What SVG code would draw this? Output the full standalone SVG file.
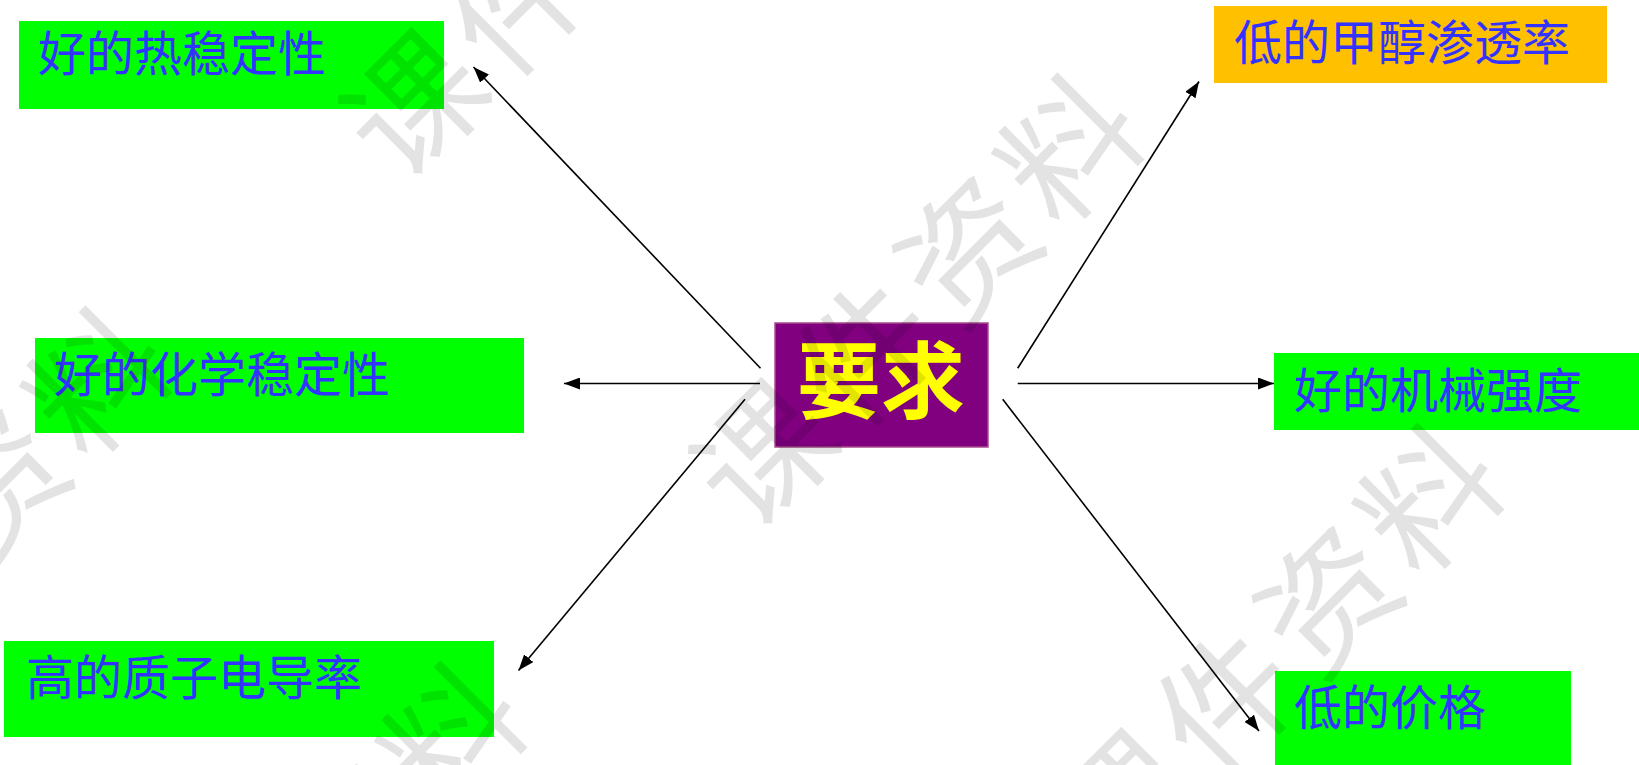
<svg xmlns="http://www.w3.org/2000/svg" width="1639" height="765" viewBox="0 0 1639 765">
<style>
.box{fill:#00FF00;}
.lbl{font-family:"Noto Sans CJK SC","Liberation Sans",sans-serif;font-size:48px;fill:#3333FF;}
.ctr{font-family:"Noto Sans CJK SC","Liberation Serif",serif;font-size:84px;font-weight:bold;fill:#FFFF00;}
.wm{font-family:"Noto Sans CJK SC","Liberation Sans",sans-serif;font-size:134px;letter-spacing:10px;fill:#000;fill-opacity:0.11;}
.con{stroke:#000;stroke-width:1.6;fill:none;}
</style>
<defs>
<marker id="arr" viewBox="0 0 16 12" refX="16" refY="6" markerWidth="16" markerHeight="12" markerUnits="userSpaceOnUse" orient="auto">
<path d="M0,0 L16,6 L0,12 z" fill="#000"/>
</marker>
</defs>
<rect width="1639" height="765" fill="#FFFFFF"/>
<g id="connectors">
<line class="con" x1="760.5" y1="368.3" x2="473.5" y2="67" marker-end="url(#arr)"/>
<line class="con" x1="760" y1="383.5" x2="564" y2="383.5" marker-end="url(#arr)"/>
<line class="con" x1="745" y1="399.3" x2="518.5" y2="670.5" marker-end="url(#arr)"/>
<line class="con" x1="1017.7" y1="368.3" x2="1199" y2="81.5" marker-end="url(#arr)"/>
<line class="con" x1="1017.7" y1="383.5" x2="1274" y2="383.5" marker-end="url(#arr)"/>
<line class="con" x1="1002.7" y1="399.3" x2="1259" y2="731" marker-end="url(#arr)"/>
</g>
<g id="center">
<rect x="775" y="323" width="213" height="124" fill="#800080" stroke="#A64D8C" stroke-width="1.5"/>
<text class="ctr" x="881" y="412" text-anchor="middle">要求</text>
</g>
<g id="n-thermal">
<rect class="box" x="19" y="21" width="425" height="88"/>
<text class="lbl" x="38" y="71">好的热稳定性</text>
</g>
<g id="n-methanol">
<rect x="1214" y="6" width="393" height="77" fill="#FFC000"/>
<text class="lbl" x="1234" y="60">低的甲醇渗透率</text>
</g>
<g id="n-chemical">
<rect class="box" x="35" y="338" width="489" height="95"/>
<text class="lbl" x="54" y="392">好的化学稳定性</text>
</g>
<g id="n-mechanical">
<rect class="box" x="1274" y="353" width="365" height="77"/>
<text class="lbl" x="1294" y="408">好的机械强度</text>
</g>
<g id="n-proton">
<rect class="box" x="4" y="641" width="490" height="96"/>
<text class="lbl" x="26" y="695">高的质子电导率</text>
</g>
<g id="n-price">
<rect class="box" x="1275" y="671" width="296" height="94"/>
<text class="lbl" x="1294" y="725">低的价格</text>
</g>
<g id="watermarks">
<text class="wm" transform="translate(565,-58) rotate(-45)" text-anchor="middle" dominant-baseline="central">课件资料</text>
<text class="wm" transform="translate(915,292) rotate(-45)" text-anchor="middle" dominant-baseline="central">课件资料</text>
<text class="wm" transform="translate(1275,642) rotate(-45)" text-anchor="middle" dominant-baseline="central">课件资料</text>
<text class="wm" transform="translate(-57,525) rotate(-45)" text-anchor="middle" dominant-baseline="central">课件资料</text>
<text class="wm" transform="translate(298,880) rotate(-45)" text-anchor="middle" dominant-baseline="central">课件资料</text>
</g>
</svg>
